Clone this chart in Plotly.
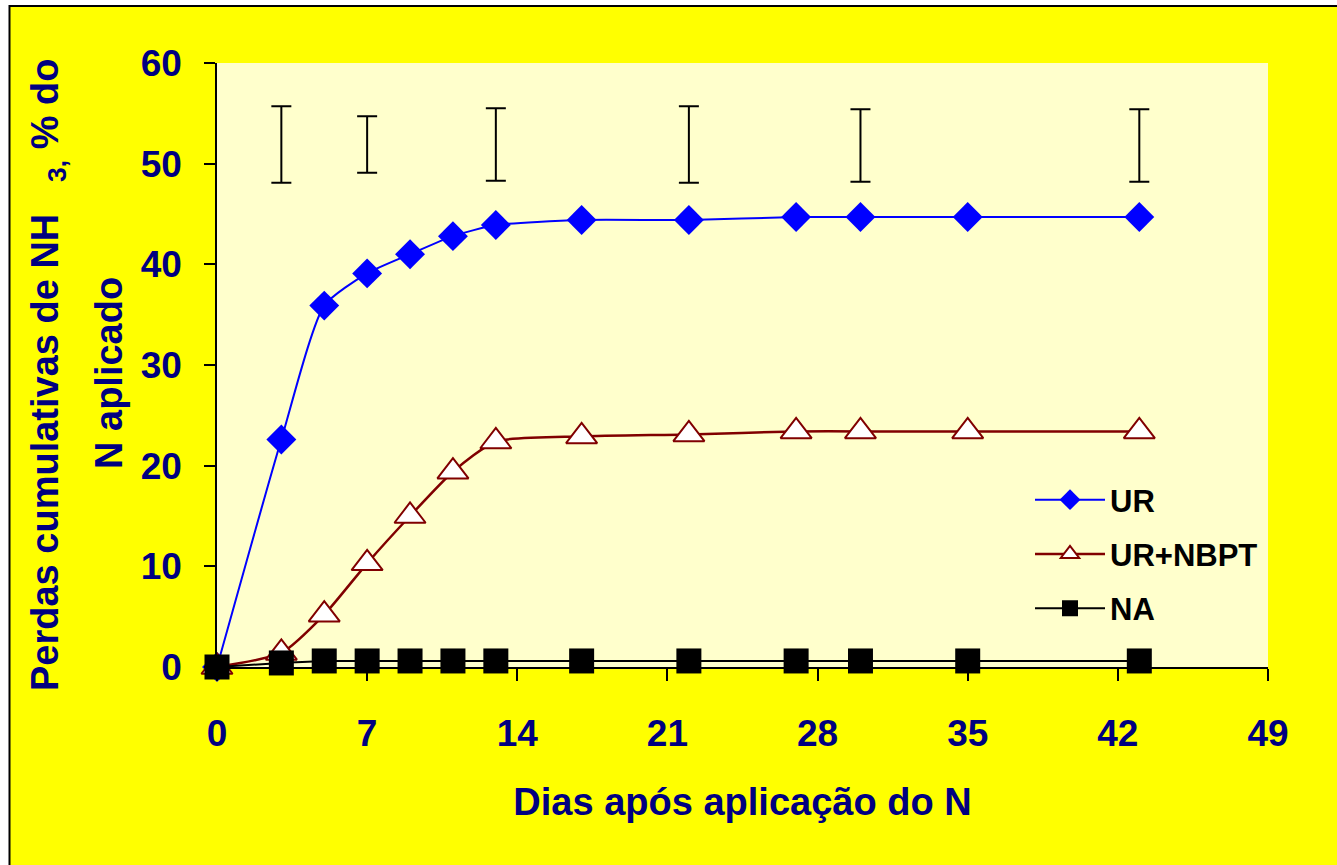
import plotly.graph_objects as go

# Measurement days and cumulative NH3 losses (% of applied N)
days = [0, 3, 5, 7, 9, 11, 13, 17, 22, 27, 30, 35, 43]
ur = [0.0, 22.6, 35.9, 39.1, 41.0, 42.8, 43.9, 44.4, 44.4, 44.7, 44.7, 44.7, 44.7]
ur_nbpt = [0.0, 1.4, 5.2, 10.3, 15.0, 19.4, 22.4, 22.9, 23.1, 23.4, 23.4, 23.4, 23.4]
na = [0.0, 0.4, 0.6, 0.6, 0.6, 0.6, 0.6, 0.6, 0.6, 0.6, 0.6, 0.6, 0.6]

# Least significant difference bars drawn above the curves
lsd_days = [3, 7, 13, 22, 30, 43]
lsd_center = [51.9, 51.9, 51.9, 51.9, 51.8, 51.8]
lsd_half = [3.8, 2.8, 3.6, 3.8, 3.6, 3.6]

x_ticks = [0, 7, 14, 21, 28, 35, 42, 49]
y_ticks = [0, 10, 20, 30, 40, 50, 60]

FONT = "Liberation Sans, Arial, sans-serif"
NAVY = "#000080"

fig = go.Figure()

fig.add_trace(go.Scatter(
    x=lsd_days, y=lsd_center, mode="markers",
    marker=dict(size=1, color="rgba(0,0,0,0)"),
    error_y=dict(type="data", array=lsd_half, visible=True,
                 color="black", thickness=2, width=10),
    showlegend=False, hoverinfo="skip",
))

fig.add_trace(go.Scatter(
    x=days, y=ur, name="UR", mode="lines+markers",
    line=dict(color="#0000FF", width=2, shape="spline", smoothing=0.6),
    marker=dict(symbol="diamond", size=23, color="#0000FF"),
    legendgroup="a", cliponaxis=False,
))
fig.add_trace(go.Scatter(
    x=days, y=ur_nbpt, name="UR+NBPT", mode="lines+markers",
    line=dict(color="#800000", width=2.5, shape="spline", smoothing=0.6),
    marker=dict(symbol="triangle-up", size=27, color="white",
                line=dict(color="#800000", width=2)),
    legendgroup="b", cliponaxis=False,
))
fig.add_trace(go.Scatter(
    x=days, y=na, name="NA", mode="lines+markers",
    line=dict(color="black", width=2, shape="spline", smoothing=0.6),
    marker=dict(symbol="square", size=25, color="black"),
    legendgroup="c", cliponaxis=False,
))

L, R, T, B = 217, 69, 63, 198
W, H = 1337, 865
pw, ph = W - L - R, H - T - B


def px_x(p):
    return (p - L) / pw


def px_y(p):
    return (H - B - p) / ph


fig.update_layout(
    width=W, height=H,
    margin=dict(l=L, r=R, t=T, b=B, pad=0),
    paper_bgcolor="white",
    plot_bgcolor="#FFFFCC",
    font=dict(family=FONT, color=NAVY),
    showlegend=True,
    legend=dict(
        x=px_x(1030), y=px_y(473),
        xanchor="left", yanchor="top",
        bgcolor="rgba(0,0,0,0)",
        font=dict(family=FONT, size=31, color="black", weight="bold"),
        itemwidth=70, tracegroupgap=11,
    ),
    shapes=[
        # chart area with frame
        dict(type="rect", xref="paper", yref="paper", layer="below",
             x0=px_x(9.5), x1=px_x(W + 20), y0=px_y(H + 20), y1=px_y(6),
             fillcolor="#FFFF00", line=dict(color="black", width=2)),
        # plot area fill
        dict(type="rect", xref="paper", yref="paper", layer="below",
             x0=0, x1=1, y0=0, y1=1,
             fillcolor="#FFFFCC", line=dict(width=0)),
    ],
    annotations=[
        dict(text="Perdas cumulativas de NH\u00a0\u00a0\u00a0<sub>3,</sub> % do",
             xref="paper", yref="paper", x=px_x(48), y=px_y(375),
             xanchor="center", yanchor="middle", textangle=-90, showarrow=False,
             font=dict(family=FONT, size=38, color=NAVY, weight="bold")),
        dict(text="N aplicado",
             xref="paper", yref="paper", x=px_x(109), y=px_y(373),
             xanchor="center", yanchor="middle", textangle=-90, showarrow=False,
             font=dict(family=FONT, size=38, color=NAVY, weight="bold")),
    ],
)

fig.update_xaxes(
    range=[0, 49], tickmode="array", tickvals=x_ticks,
    showgrid=False, zeroline=False,
    showline=True, linecolor="black", linewidth=1.5,
    ticks="outside", ticklen=12, tickcolor="black", tickwidth=1.5,
    tickfont=dict(family=FONT, size=37, color=NAVY, weight="bold"),
    ticklabelstandoff=21,
    title=dict(text="Dias após aplicação do N", standoff=35,
               font=dict(family=FONT, size=38, color=NAVY, weight="bold")),
)
fig.update_yaxes(
    range=[0, 60], tickmode="array", tickvals=y_ticks,
    showgrid=False, zeroline=False,
    showline=True, linecolor="black", linewidth=1.5,
    ticks="outside", ticklen=11, tickcolor="black", tickwidth=1.5,
    tickfont=dict(family=FONT, size=37, color=NAVY, weight="bold"),
    ticklabelstandoff=15,
)

fig.write_html("out.html")
